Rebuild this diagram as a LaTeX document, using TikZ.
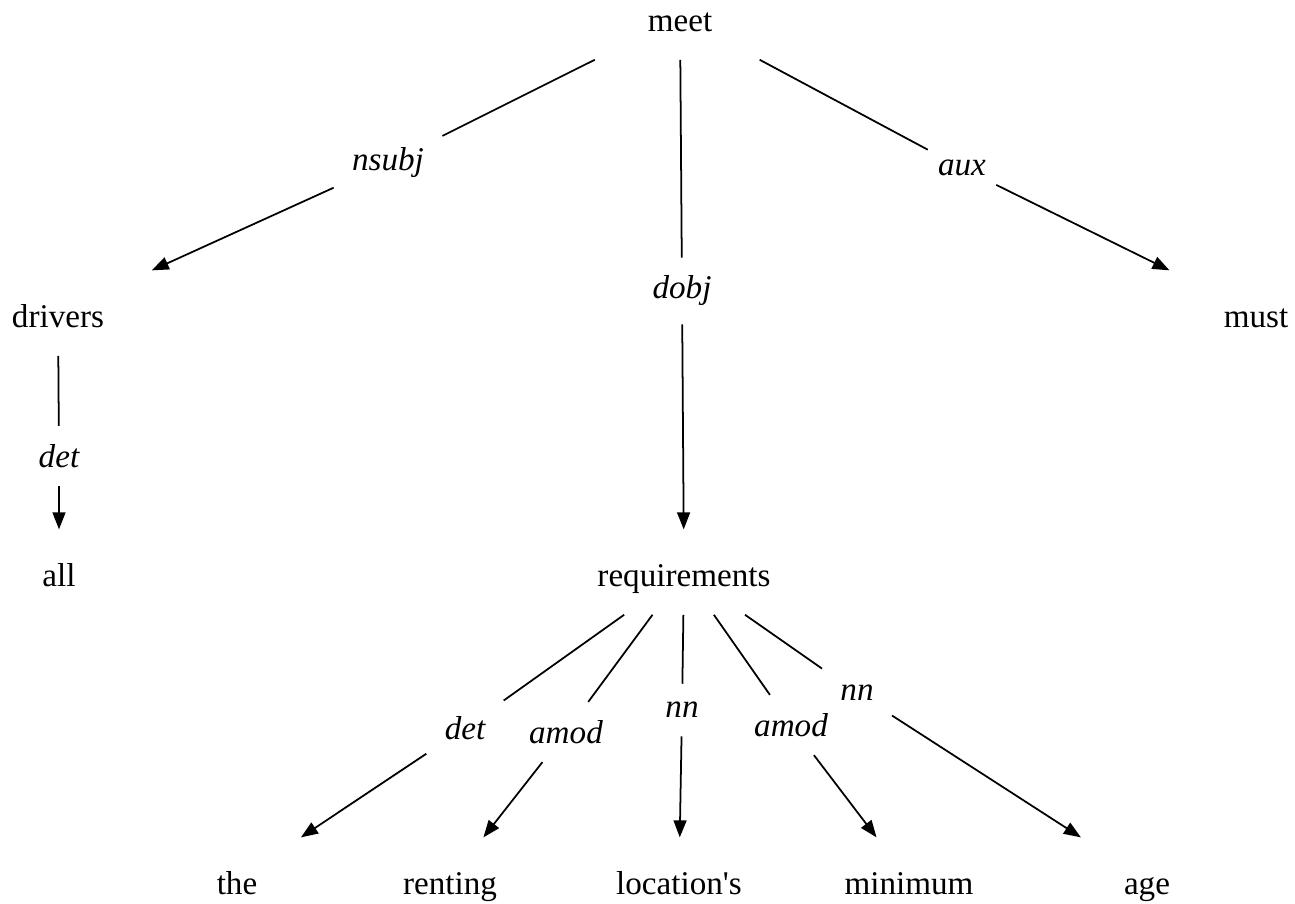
\documentclass[tikz,border=0pt]{standalone}
\usepackage{fontspec}
\setmainfont{Liberation Serif}
\usetikzlibrary{arrows.meta}
\tikzset{
  word/.style={anchor=base, inner sep=0pt, minimum width=170pt,
    text height=47.6pt, text depth=23.8pt, font=\fontsize{28.3}{34}\selectfont},
  rel/.style={inner sep=15pt, font=\fontsize{28.3}{34}\selectfont\itshape},
  dep/.style={-{Triangle[length=14.5pt,width=11pt]}},
}
\begin{document}
\begin{tikzpicture}[x=0.3mm, y=-0.3mm, line width=1.5pt]
    \useasboundingbox (0,0) rectangle (1295,903);
    % 词
    \node[word] (meet) at (680,31) {meet};
    \node[word] (drivers) at (58,327) {drivers};
    \node[word] (must) at (1256,327) {must};
    \node[word] (all) at (59,586) {all};
    \node[word] (requirements) at (684,586) {requirements};
    \node[word] (the) at (237,894) {the};
    \node[word] (renting) at (450,894) {renting};
    \node[word] (locations) at (679,894) {location\textquotesingle s};
    \node[word] (minimum) at (909,894) {minimum};
    \node[word] (age) at (1147,894) {age};
    % 依存关系标签
    \node[rel] (nsubj) at (388,163) {nsubj};
    \node[rel] (dobj) at (682,291) {dobj};
    \node[rel, inner xsep=8pt] (aux) at (962,168) {aux};
    \node[rel] (det1) at (59,456) {det};
    \node[rel] (det2) at (465,728) {det};
    \node[rel] (amod1) at (566,732) {amod};
    \node[rel] (nn1) at (682,710) {nn};
    \node[rel] (amod2) at (791,725) {amod};
    \node[rel] (nn2) at (857,693) {nn};
    % 边
    \draw (meet) -- (nsubj);
    \draw[dep] (nsubj) -- (drivers);
    \draw (meet) -- (dobj);
    \draw[dep] (dobj) -- (requirements);
    \draw (meet) -- (aux);
    \draw[dep] (aux) -- (must);
    \draw (drivers) -- (det1);
    \draw[dep] (det1) -- (all);
    \draw (requirements) -- (det2);
    \draw[dep] (det2) -- (the);
    \draw (requirements) -- (amod1);
    \draw[dep] (amod1) -- (renting);
    \draw (requirements) -- (nn1);
    \draw[dep] (nn1) -- (locations);
    \draw (requirements) -- (amod2);
    \draw[dep] (amod2) -- (minimum);
    \draw (requirements) -- (nn2);
    \draw[dep] (nn2) -- (age);
\end{tikzpicture}
\end{document}
